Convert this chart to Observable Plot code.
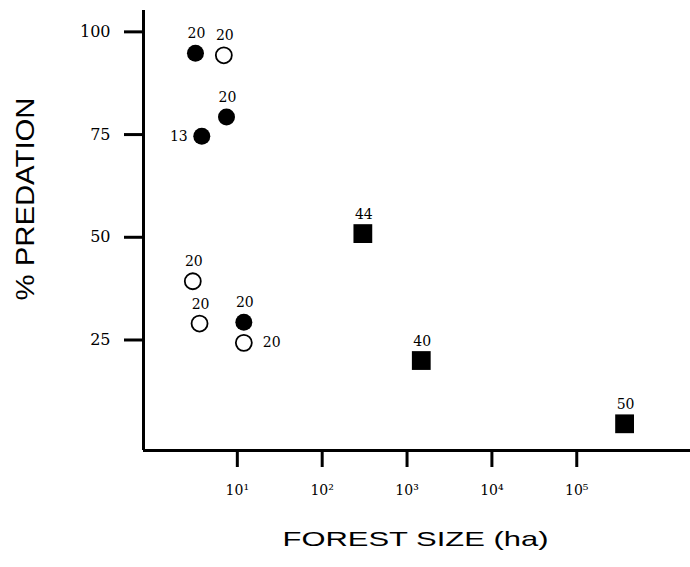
<!DOCTYPE html>
<html>
<head>
<meta charset="utf-8">
<script src="https://cdn.jsdelivr.net/npm/d3@7"></script>
<script src="https://cdn.jsdelivr.net/npm/@observablehq/plot@0.6"></script>
<style>
  html, body { margin: 0; padding: 0; background: #fff; }
  svg { overflow: visible; }
</style>
</head>
<body>
<div id="chart"></div>
<script>
// Data
const filledX = [3.58, 8.31, 4.25, 13.3];
const filledY = [94.8, 79.3, 74.6, 29.3];
const filledN = [20, 20, 13, 20];

const openX = [7.73, 3.33, 4.0, 13.3];
const openY = [94.3, 39.3, 29.0, 24.3];
const openN = [20, 20, 20, 20];

const squareX = [336, 1640, 408000];
const squareY = [50.9, 20.0, 4.6];
const squareN = [44, 40, 50];

const xTicks = [10, 100, 1000, 10000, 100000];
const xTickLabels = ["10¹", "10²", "10³", "10⁴", "10⁵"];
const yTicks = [25, 50, 75, 100];

const xTitle = "FOREST SIZE (ha)";
const yTitle = "% PREDATION";

// Build tables
const filled = filledX.map((x, i) => ({x, y: filledY[i], n: filledN[i], g: "filled", i}));
const open = openX.map((x, i) => ({x, y: openY[i], n: openN[i], g: "open", i}));
const squares = squareX.map((x, i) => ({x, y: squareY[i], n: squareN[i], g: "square", i}));
const all = [...filled, ...open, ...squares];

const isLeft = d => d.g === "filled" && d.i === 2;
const isRight = d => d.g === "open" && d.i === 3;
const above = all.filter(d => !isLeft(d) && !isRight(d));
const left = all.filter(isLeft);
const right = all.filter(isRight);

const xDomain = [0.874, 2.44e6];
const yDomain = [-1.9, 105.2];

const serif = "DejaVu Serif";
const sans = "Liberation Sans";

const plot = Plot.plot({
  width: 690,
  height: 567,
  marginLeft: 143,
  marginRight: 0,
  marginTop: 10,
  marginBottom: 117,
  style: {background: "#fff", color: "#000"},
  x: {type: "log", domain: xDomain},
  y: {domain: yDomain},
  marks: [
    Plot.ruleX([xDomain[0]], {stroke: "#000", strokeWidth: 3}),
    Plot.ruleY([yDomain[0]], {stroke: "#000", strokeWidth: 3}),
    Plot.axisX(xTicks, {
      tickSize: 17, tickPadding: 18, strokeWidth: 3,
      tickFormat: (d) => xTickLabels[xTicks.indexOf(d)],
      fontFamily: serif, fontSize: 14, dx: 4, label: null, fill: "#000"
    }),
    Plot.axisY(yTicks, {
      tickSize: 19, tickPadding: 14, strokeWidth: 3,
      fontFamily: serif, fontSize: 16, label: null, fill: "#000"
    }),
    Plot.dot(open, {x: "x", y: "y", r: 8, stroke: "#000", strokeWidth: 1.8, fill: "#fff"}),
    Plot.dot(filled, {x: "x", y: "y", r: 8.5, fill: "#000"}),
    Plot.dot(squares, {x: "x", y: "y", r: 10.6, symbol: "square", fill: "#000"}),
    Plot.text(above, {x: "x", y: "y", text: "n", dy: -19.5, dx: 1, fontFamily: serif, fontSize: 14, fill: "#000"}),
    Plot.text(left, {x: "x", y: "y", text: "n", dx: -14, textAnchor: "end", fontFamily: serif, fontSize: 14, fill: "#000"}),
    Plot.text(right, {x: "x", y: "y", text: "n", dx: 19, textAnchor: "start", fontFamily: serif, fontSize: 14, fill: "#000"}),
    Plot.text([yTitle], {frameAnchor: "left", rotate: -90, textAnchor: "start", dx: -118, dy: 70, fontFamily: sans, fontSize: 25, fill: "#000"}),
    Plot.text([xTitle], {frameAnchor: "bottom", dx: -1.5, dy: 95, fontFamily: sans, fontSize: 21, fill: "#000"})
  ]
});

// Stretch the axis titles horizontally like the scanned figure
d3.select(plot).selectAll(`g[font-family="${sans}"] text`).each(function() {
  const t = d3.select(this).text();
  const len = t === xTitle ? 266 : 203;
  d3.select(this).attr("textLength", len).attr("lengthAdjust", "spacingAndGlyphs");
});

document.getElementById("chart").appendChild(plot);
</script>
</body>
</html>
